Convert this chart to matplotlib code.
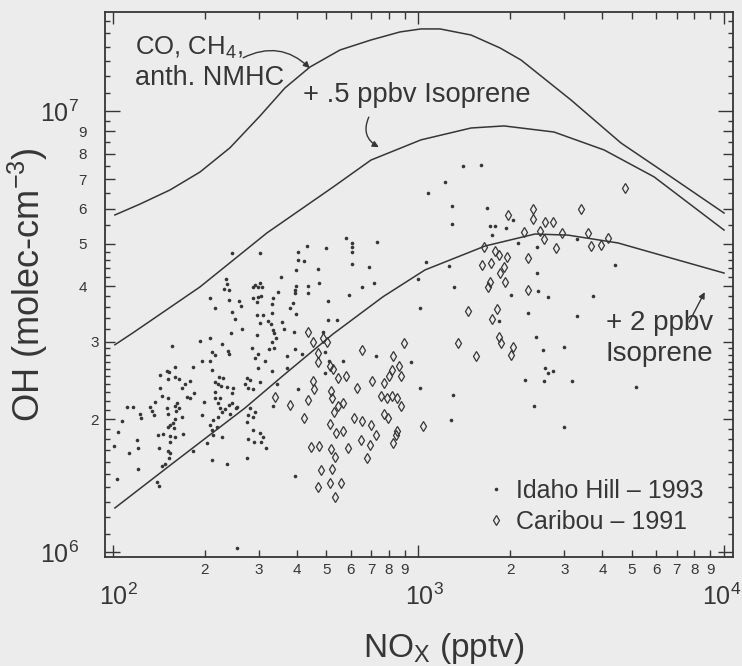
import matplotlib.pyplot as plt
from matplotlib.ticker import FixedLocator, FixedFormatter
from matplotlib.transforms import ScaledTranslation

plt.rcParams['font.family'] = ['Liberation Sans', 'DejaVu Sans']
plt.rcParams['mathtext.fontset'] = 'custom'
plt.rcParams['mathtext.rm'] = 'Liberation Sans'
plt.rcParams['mathtext.it'] = 'Liberation Sans:italic'
plt.rcParams['mathtext.bf'] = 'Liberation Sans:bold'

ink = '#363636'
paper = '#ececec'

# model curves: NOx (pptv) vs OH (1e6 molec/cm3)
base_nox = [101.5, 122.6, 153.7, 192.7, 241.5, 302.8, 365.6, 441.4, 553.4, 699.1,
            869.9, 1019, 1176, 1486, 1848, 2166, 3157, 4601, 6707, 10000]
base_oh = [5.81, 6.15, 6.62, 7.27, 8.25, 9.74, 11.28, 12.58, 13.75, 14.49,
           15.11, 15.35, 15.35, 14.87, 13.90, 13.05, 10.59, 8.46, 7.09, 5.87]

iso05_nox = [101.5, 116.3, 192.7, 319.2, 525.0, 699.1, 1019, 1486, 1905, 2777,
             4048, 5901, 10000]
iso05_oh = [2.95, 3.14, 3.99, 5.29, 6.72, 7.74, 8.60, 9.15, 9.25, 8.96,
            8.16, 7.09, 5.37]

iso2_nox = [101.5, 157.2, 270.4, 360.2, 525.0, 765.1, 1050, 1651, 2406, 3086,
            4498, 6707, 10000]
iso2_oh = [1.258, 1.59, 2.12, 2.51, 3.12, 3.79, 4.36, 4.94, 5.26, 5.23,
           5.02, 4.64, 4.29]

# Idaho Hill 1993 measurements
idaho_nox = [245, 234, 236, 231, 239, 208, 239, 258, 262, 216, 245, 251, 264, 243, 208, 193, 228,
             156, 211, 238, 239, 216, 196, 208, 160, 183, 150, 153, 211, 143, 160, 151, 164,
             179, 223, 229, 216, 172, 221, 226, 236, 247, 168, 143, 184, 216, 245, 145, 175,
             179, 152, 216, 224, 137, 199, 162, 221, 245, 239, 111, 116, 132, 160, 165, 150,
             224, 254, 252, 233, 134, 161, 228, 123, 241, 151, 196, 136, 168, 124, 221, 160,
             213, 107, 157, 208, 154, 151, 219, 158, 104, 211, 140, 146, 154, 160, 170, 213,
             120, 154, 228, 101, 203, 141, 113, 121, 151, 154, 183, 211, 153,
             103, 121, 139, 141, 145, 148, 236, 274, 393, 254,
             303, 431, 402, 402, 421, 498, 578, 605, 605, 605, 730, 605, 688, 396, 469, 355,
             292, 303, 287, 298, 308, 434, 472, 396, 393, 393, 653, 714, 346, 434, 592, 298,
             287, 305, 334, 296, 331, 505, 388, 379, 331, 296, 310, 396, 321, 303, 357, 329,
             505, 541, 363, 334, 336, 390, 296, 341, 331, 487,
             285, 298, 324, 336, 393, 415, 371, 315, 292, 298, 331, 371, 494, 566, 509, 494,
             274, 281, 270, 277, 287, 303, 344, 402, 334, 281, 292, 277, 287, 274, 287, 303,
             310, 277, 289, 317, 305,
             725, 944, 1010, 1295, 1276, 2418, 2548, 2983, 2224, 2586, 2645, 2748, 2566, 3169,
             2381, 2983, 5168,
             1396, 1598, 1219, 1073, 1285, 1672, 1285, 1710, 1775, 1930, 1736, 2034, 2111,
             1057, 1256, 995, 1304, 2003, 1010, 2276, 1830,
             3291, 2436, 2436, 4412, 2454, 2645, 3713, 3291]
idaho_oh = [4.76, 4.16, 4.05, 3.95, 3.92, 3.77, 3.73, 3.71, 3.61, 3.57, 3.50, 3.38, 3.20, 3.14, 3.06, 3.01, 2.96,
            2.93, 2.84, 2.86, 2.81, 2.80, 2.71, 2.71, 2.63, 2.63, 2.57, 2.56, 2.59, 2.52, 2.49, 2.47, 2.47,
            2.44, 2.49, 2.48, 2.43, 2.40, 2.40, 2.38, 2.37, 2.35, 2.35, 2.35, 2.29, 2.31, 2.29, 2.26, 2.24,
            2.23, 2.23, 2.23, 2.23, 2.19, 2.19, 2.18, 2.18, 2.18, 2.15, 2.13, 2.13, 2.13, 2.14, 2.12, 2.12,
            2.12, 2.13, 2.12, 2.11, 2.09, 2.09, 2.08, 2.06, 2.06, 2.05, 2.04, 2.04, 2.02, 2.01, 2.02, 2.00,
            1.99, 1.98, 1.96, 1.94, 1.94, 1.92, 1.92, 1.91, 1.87, 1.89, 1.84, 1.85, 1.83, 1.82, 1.85, 1.84,
            1.79, 1.78, 1.82, 1.74, 1.77, 1.72, 1.68, 1.72, 1.69, 1.68, 1.69, 1.62, 1.63,
            1.46, 1.54, 1.44, 1.41, 1.57, 1.58, 1.58, 1.63, 1.49, 1.02,
            4.76, 4.94, 4.79, 4.59, 4.57, 4.89, 5.15, 5.02, 4.92, 4.79, 5.05, 4.50, 4.43, 4.36, 4.38, 4.20,
            4.04, 4.08, 3.98, 3.98, 3.98, 4.02, 4.07, 4.00, 3.93, 3.87, 3.98, 4.07, 3.89, 3.87, 3.83, 3.79,
            3.77, 3.81, 3.77, 3.69, 3.65, 3.71, 3.67, 3.57, 3.48, 3.45, 3.45, 3.47, 3.34, 3.31, 3.32, 3.29,
            3.36, 3.36, 3.20, 3.19, 3.14, 3.15, 3.10, 3.05, 2.99, 3.15,
            2.90, 2.81, 2.89, 2.90, 2.89, 2.81, 2.78, 2.71, 2.75, 2.61, 2.57, 2.61, 2.84, 2.71, 2.71, 2.54,
            2.48, 2.46, 2.40, 2.35, 2.34, 2.43, 2.40, 2.34, 2.14, 2.12, 2.08, 2.04, 2.02, 1.97, 1.89, 1.86,
            1.82, 1.80, 1.78, 1.72, 1.78,
            2.78, 2.70, 2.35, 2.27, 1.99, 3.07, 2.87, 2.91, 2.46, 2.61, 2.55, 2.57, 2.44, 2.44,
            2.14, 1.92, 2.37,
            7.50, 7.53, 6.90, 6.52, 6.09, 6.03, 5.55, 5.48, 5.48, 5.43, 5.23, 5.66, 5.02,
            4.55, 4.45, 4.15, 3.98, 3.83, 3.57, 3.49, 3.34,
            5.12, 4.91, 4.29, 4.47, 3.90, 3.79, 3.81, 3.42]

# Caribou 1991 measurements
caribou_nox = [434, 451, 487, 502, 469, 469, 653, 513, 525, 545, 578, 704, 770, 451, 455, 517, 629,
               338, 434, 521, 545, 566, 379, 529, 421, 614, 653, 513, 699, 537, 566, 725, 648,
               444, 472, 517, 587, 693, 533, 680, 825, 480, 521, 469, 513, 557, 533,
               895, 825, 862, 818, 800, 876, 753, 787, 818, 849, 876, 770, 794, 843, 850, 1033,
               1345, 1539, 1830, 1858, 2003, 2034,
               1844, 1914, 1710, 1685, 2276, 1802, 1449, 1736,
               1958, 2364, 2364, 2207, 1634, 1775, 1830, 1943, 1723, 1610, 1902, 2276,
               4757, 3392, 2586, 2748, 2491, 2566, 2940, 3575, 3656, 2810, 3971, 4186]
caribou_oh = [3.15, 2.99, 3.05, 2.99, 2.83, 2.70, 2.87, 2.64, 2.60, 2.48, 2.50, 2.44, 2.42, 2.44, 2.34, 2.32, 2.35,
              2.24, 2.21, 2.23, 2.14, 2.18, 2.15, 2.08, 2.01, 2.01, 1.98, 1.95, 1.94, 1.86, 1.88, 1.84, 1.79,
              1.73, 1.74, 1.71, 1.72, 1.75, 1.64, 1.63, 1.77, 1.53, 1.54, 1.40, 1.43, 1.43, 1.33,
              2.98, 2.78, 2.64, 2.59, 2.50, 2.50, 2.26, 2.23, 2.26, 2.23, 2.14, 2.06, 2.01, 1.84, 1.88, 1.93,
              2.98, 2.78, 3.07, 2.97, 2.80, 2.92,
              4.29, 4.09, 4.09, 3.98, 3.93, 3.55, 3.52, 3.37,
              5.81, 5.99, 5.69, 5.32, 4.92, 4.81, 4.71, 4.67, 4.52, 4.47, 4.43, 4.64,
              6.69, 5.99, 5.60, 5.60, 5.34, 5.12, 5.29, 5.29, 4.94, 4.89, 4.97, 5.15]

x_major = [1e2, 1e3, 1e4]
x_major_labels = ['$10^{2}$', '$10^{3}$', '$10^{4}$']
x_minor = [200, 300, 400, 500, 600, 700, 800, 900, 2000, 3000, 4000, 5000, 6000, 7000, 8000, 9000]
x_minor_labels = ['2', '3', '4', '5', '6', '7', '8', '9'] * 2

y_major = [1e6, 1e7]
y_major_labels = ['$10^{6}$', '$10^{7}$']
y_minor = [1.1, 1.2, 1.3, 1.4, 1.5, 1.6, 1.7, 1.8, 1.9, 2.0, 2.1, 2.2, 2.3, 2.4, 2.5, 2.6, 2.7,
           2.8, 2.9, 3.0, 3.2, 3.4, 3.6, 3.8, 4.0, 4.2, 4.4, 4.6, 4.8, 5.0, 5.5, 6.0, 6.5, 7.0,
           7.5, 8.0, 8.5, 9.0, 9.5, 11, 12, 13, 14, 15, 16]
y_labeled = [2.0, 3.0, 4.0, 5.0, 6.0, 7.0, 8.0, 9.0]

fig = plt.figure(figsize=(7.42, 6.66), dpi=100, facecolor=paper)
ax = fig.add_axes([0.1415, 0.1637, 0.8464, 0.8183])
ax.set_facecolor(paper)
ax.set_xscale('log')
ax.set_yscale('log')

for nox, oh in [(base_nox, base_oh), (iso05_nox, iso05_oh), (iso2_nox, iso2_oh)]:
    ax.plot(nox, [v * 1e6 for v in oh], color=ink, lw=1.1, solid_joinstyle='round')

h1, = ax.plot(idaho_nox, [v * 1e6 for v in idaho_oh], 'o', ms=2.6, mew=0, color=ink)
h2, = ax.plot(caribou_nox, [v * 1e6 for v in caribou_oh], 'd', ms=5.2, mfc='none', mec=ink, mew=0.9)

ax.set_xlim(94.2, 10700)
ax.set_ylim(0.974e6, 1.677e7)

ax.xaxis.set_major_locator(FixedLocator(x_major))
ax.xaxis.set_major_formatter(FixedFormatter(x_major_labels))
ax.xaxis.set_minor_locator(FixedLocator(x_minor))
ax.xaxis.set_minor_formatter(FixedFormatter(x_minor_labels))
ax.yaxis.set_major_locator(FixedLocator(y_major))
ax.yaxis.set_major_formatter(FixedFormatter(y_major_labels))
ax.yaxis.set_minor_locator(FixedLocator([v * 1e6 for v in y_minor]))
ax.yaxis.set_minor_formatter(FixedFormatter([str(int(v)) if v in y_labeled else '' for v in y_minor]))

ax.tick_params(which='both', direction='in', top=True, right=True, color=ink, labelcolor=ink, width=1.0)
ax.tick_params(axis='x', which='major', length=8.5, labelsize=18, pad=19)
ax.tick_params(axis='x', which='minor', length=5, labelsize=11, pad=4)
ax.tick_params(axis='y', which='major', length=11, labelsize=18, pad=19)
ax.tick_params(axis='y', which='minor', length=7, labelsize=11, pad=13)
for s in ax.spines.values():
    s.set_color(ink)
    s.set_linewidth(1.3)

ax.set_xlabel('NO$_{\\mathrm{X}}$ (pptv)', fontsize=24, color=ink)
ax.set_ylabel('OH (molec-cm$^{-3}$)', fontsize=26, color=ink)
ax.xaxis.set_label_coords(0.54, -0.135)
ax.yaxis.set_label_coords(-0.087, 0.5)

ax.legend([h1, h2], ['Idaho Hill \u2013 1993', 'Caribou \u2013 1991'], loc='lower left',
          bbox_to_anchor=(0.604, 0.042), frameon=False, fontsize=18, handlelength=0.95,
          handletextpad=0.3, labelspacing=0.28, borderpad=0, borderaxespad=0, labelcolor=ink)

tx = dict(transform=ax.transAxes, color=ink)
ax.text(0.048, 0.921, 'CO, CH$_4$,', ha='left', va='baseline', fontsize=18.5, **tx)
ax.text(0.048, 0.866, 'anth. NMHC', ha='left', va='baseline', fontsize=19.5, **tx)
ax.text(0.315, 0.835, '+ .5 ppbv Isoprene', ha='left', va='baseline', fontsize=19.7, **tx)
ax.text(0.968, 0.417, '+ 2 ppbv', ha='right', va='baseline', fontsize=20, **tx)
ax.text(0.968, 0.360, 'Isoprene', ha='right', va='baseline', fontsize=20, **tx)

arrow = dict(arrowstyle='-|>', color=ink, lw=1.0, mutation_scale=9, shrinkA=0, shrinkB=0)
ax.annotate('', xy=(0.326, 0.897), xytext=(0.220, 0.916), xycoords='axes fraction',
            arrowprops=dict(connectionstyle='arc3,rad=-0.35', **arrow))
ax.annotate('', xy=(0.436, 0.752), xytext=(0.420, 0.807), xycoords='axes fraction',
            arrowprops=dict(connectionstyle='arc3,rad=0.45', **arrow))
ax.annotate('', xy=(0.955, 0.486), xytext=(0.930, 0.431), xycoords='axes fraction',
            arrowprops=dict(connectionstyle='arc3,rad=0', **arrow))

# decade labels on x sit a little right of their ticks; keep 10^4 inside the page
for t, dx, ha in zip(ax.xaxis.get_major_ticks(), [0.06, 0.06, 0.17], ['center', 'center', 'right']):
    t.label1.set_transform(t.label1.get_transform() + ScaledTranslation(dx, 0, fig.dpi_scale_trans))
    t.label1.set_horizontalalignment(ha)

# shorter unlabelled minor ticks on the y axis; labels 2 and 3 sit closer to the axis
for t, v in zip(ax.yaxis.get_minor_ticks(len(y_minor)), y_minor):
    if v not in y_labeled:
        t.tick1line.set_markersize(3.6)
        t.tick2line.set_markersize(3.6)
    elif v < 3.5:
        t.set_pad(4.5)

fig.savefig('out.png', dpi=100, facecolor=paper)
